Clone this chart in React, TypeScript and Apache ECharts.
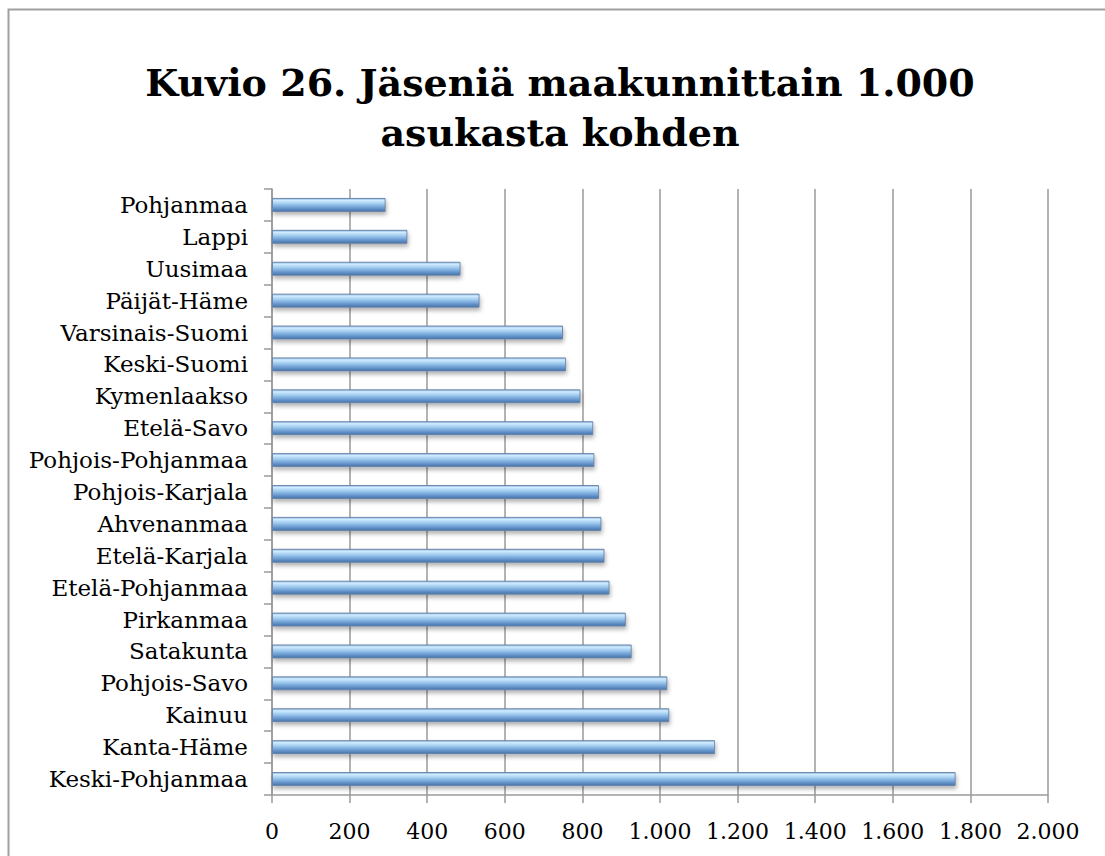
import React, { useEffect, useRef } from "react";
import * as echarts from "echarts";

const categories = [
  "Pohjanmaa",
  "Lappi",
  "Uusimaa",
  "Päijät-Häme",
  "Varsinais-Suomi",
  "Keski-Suomi",
  "Kymenlaakso",
  "Etelä-Savo",
  "Pohjois-Pohjanmaa",
  "Pohjois-Karjala",
  "Ahvenanmaa",
  "Etelä-Karjala",
  "Etelä-Pohjanmaa",
  "Pirkanmaa",
  "Satakunta",
  "Pohjois-Savo",
  "Kainuu",
  "Kanta-Häme",
  "Keski-Pohjanmaa",
];

const values = [
  293, 349, 486, 535, 750, 758, 795, 828, 831, 843, 849, 857, 870, 912, 927,
  1019, 1024, 1142, 1762,
];

const titleLines = ["Kuvio 26. Jäseniä maakunnittain 1.000", "asukasta kohden"];

const formatThousands = (v: number): string => {
  if (v >= 1000) {
    const th = Math.floor(v / 1000);
    const rest = String(v % 1000).padStart(3, "0");
    return `${th}.${rest}`;
  }
  return String(v);
};

export default function App() {
  const ref = useRef<HTMLDivElement>(null);

  useEffect(() => {
    if (!ref.current) return;
    const chart = echarts.init(ref.current, undefined, { renderer: "svg" });
    const gray = "#9a9a9a";
    chart.setOption({
      animation: false,
      backgroundColor: "#ffffff",
      title: {
        text: titleLines.join("\n"),
        left: 555,
        top: 52,
        textAlign: "center",
        textStyle: {
          fontFamily: "DejaVu Serif",
          fontWeight: "bold",
          fontSize: 38,
          lineHeight: 50,
          color: "#000000",
        },
      },
      graphic: [
        {
          type: "rect",
          shape: { x: 8.5, y: 9.5, width: 1110, height: 860 },
          style: { fill: "none", stroke: "#a0a0a0", lineWidth: 2 },
          silent: true,
        },
      ],
      grid: { left: 272, right: 57, top: 189, bottom: 61, containLabel: false },
      xAxis: {
        type: "value",
        min: 0,
        max: 2000,
        interval: 200,
        axisLine: { show: true, lineStyle: { color: gray, width: 1.5 } },
        axisTick: { show: true, length: 8, lineStyle: { color: gray, width: 1.5 } },
        splitLine: { show: true, lineStyle: { color: gray, width: 1.5 } },
        axisLabel: {
          margin: 25,
          fontFamily: "DejaVu Serif",
          fontSize: 22,
          color: "#000000",
          formatter: (v: number) => formatThousands(v),
        },
      },
      yAxis: {
        type: "category",
        data: categories,
        inverse: true,
        axisLine: { show: true, lineStyle: { color: gray, width: 1.5 } },
        axisTick: { show: true, length: 8, lineStyle: { color: gray, width: 1.5 } },
        axisLabel: {
          margin: 24,
          fontFamily: "DejaVu Serif",
          fontSize: 23,
          color: "#000000",
        },
      },
      series: [
        {
          type: "bar",
          data: values,
          barWidth: 14,
          itemStyle: {
            color: new echarts.graphic.LinearGradient(0, 0, 0, 1, [
              { offset: 0, color: "#8ab2dc" },
              { offset: 0.15, color: "#d0ecff" },
              { offset: 0.4, color: "#a3cdf0" },
              { offset: 0.7, color: "#6f9fd4" },
              { offset: 1, color: "#4372a9" },
            ]),
            borderColor: "rgba(105,130,165,0.9)",
            borderWidth: 1,
            shadowColor: "rgba(0,0,0,0.3)",
            shadowBlur: 4,
            shadowOffsetX: 1,
            shadowOffsetY: 3,
          },
        },
      ],
    });
    return () => chart.dispose();
  }, []);

  return (
    <div
      ref={ref}
      style={{ position: "absolute", left: 0, top: 0, width: 1105, height: 856 }}
    />
  );
}
